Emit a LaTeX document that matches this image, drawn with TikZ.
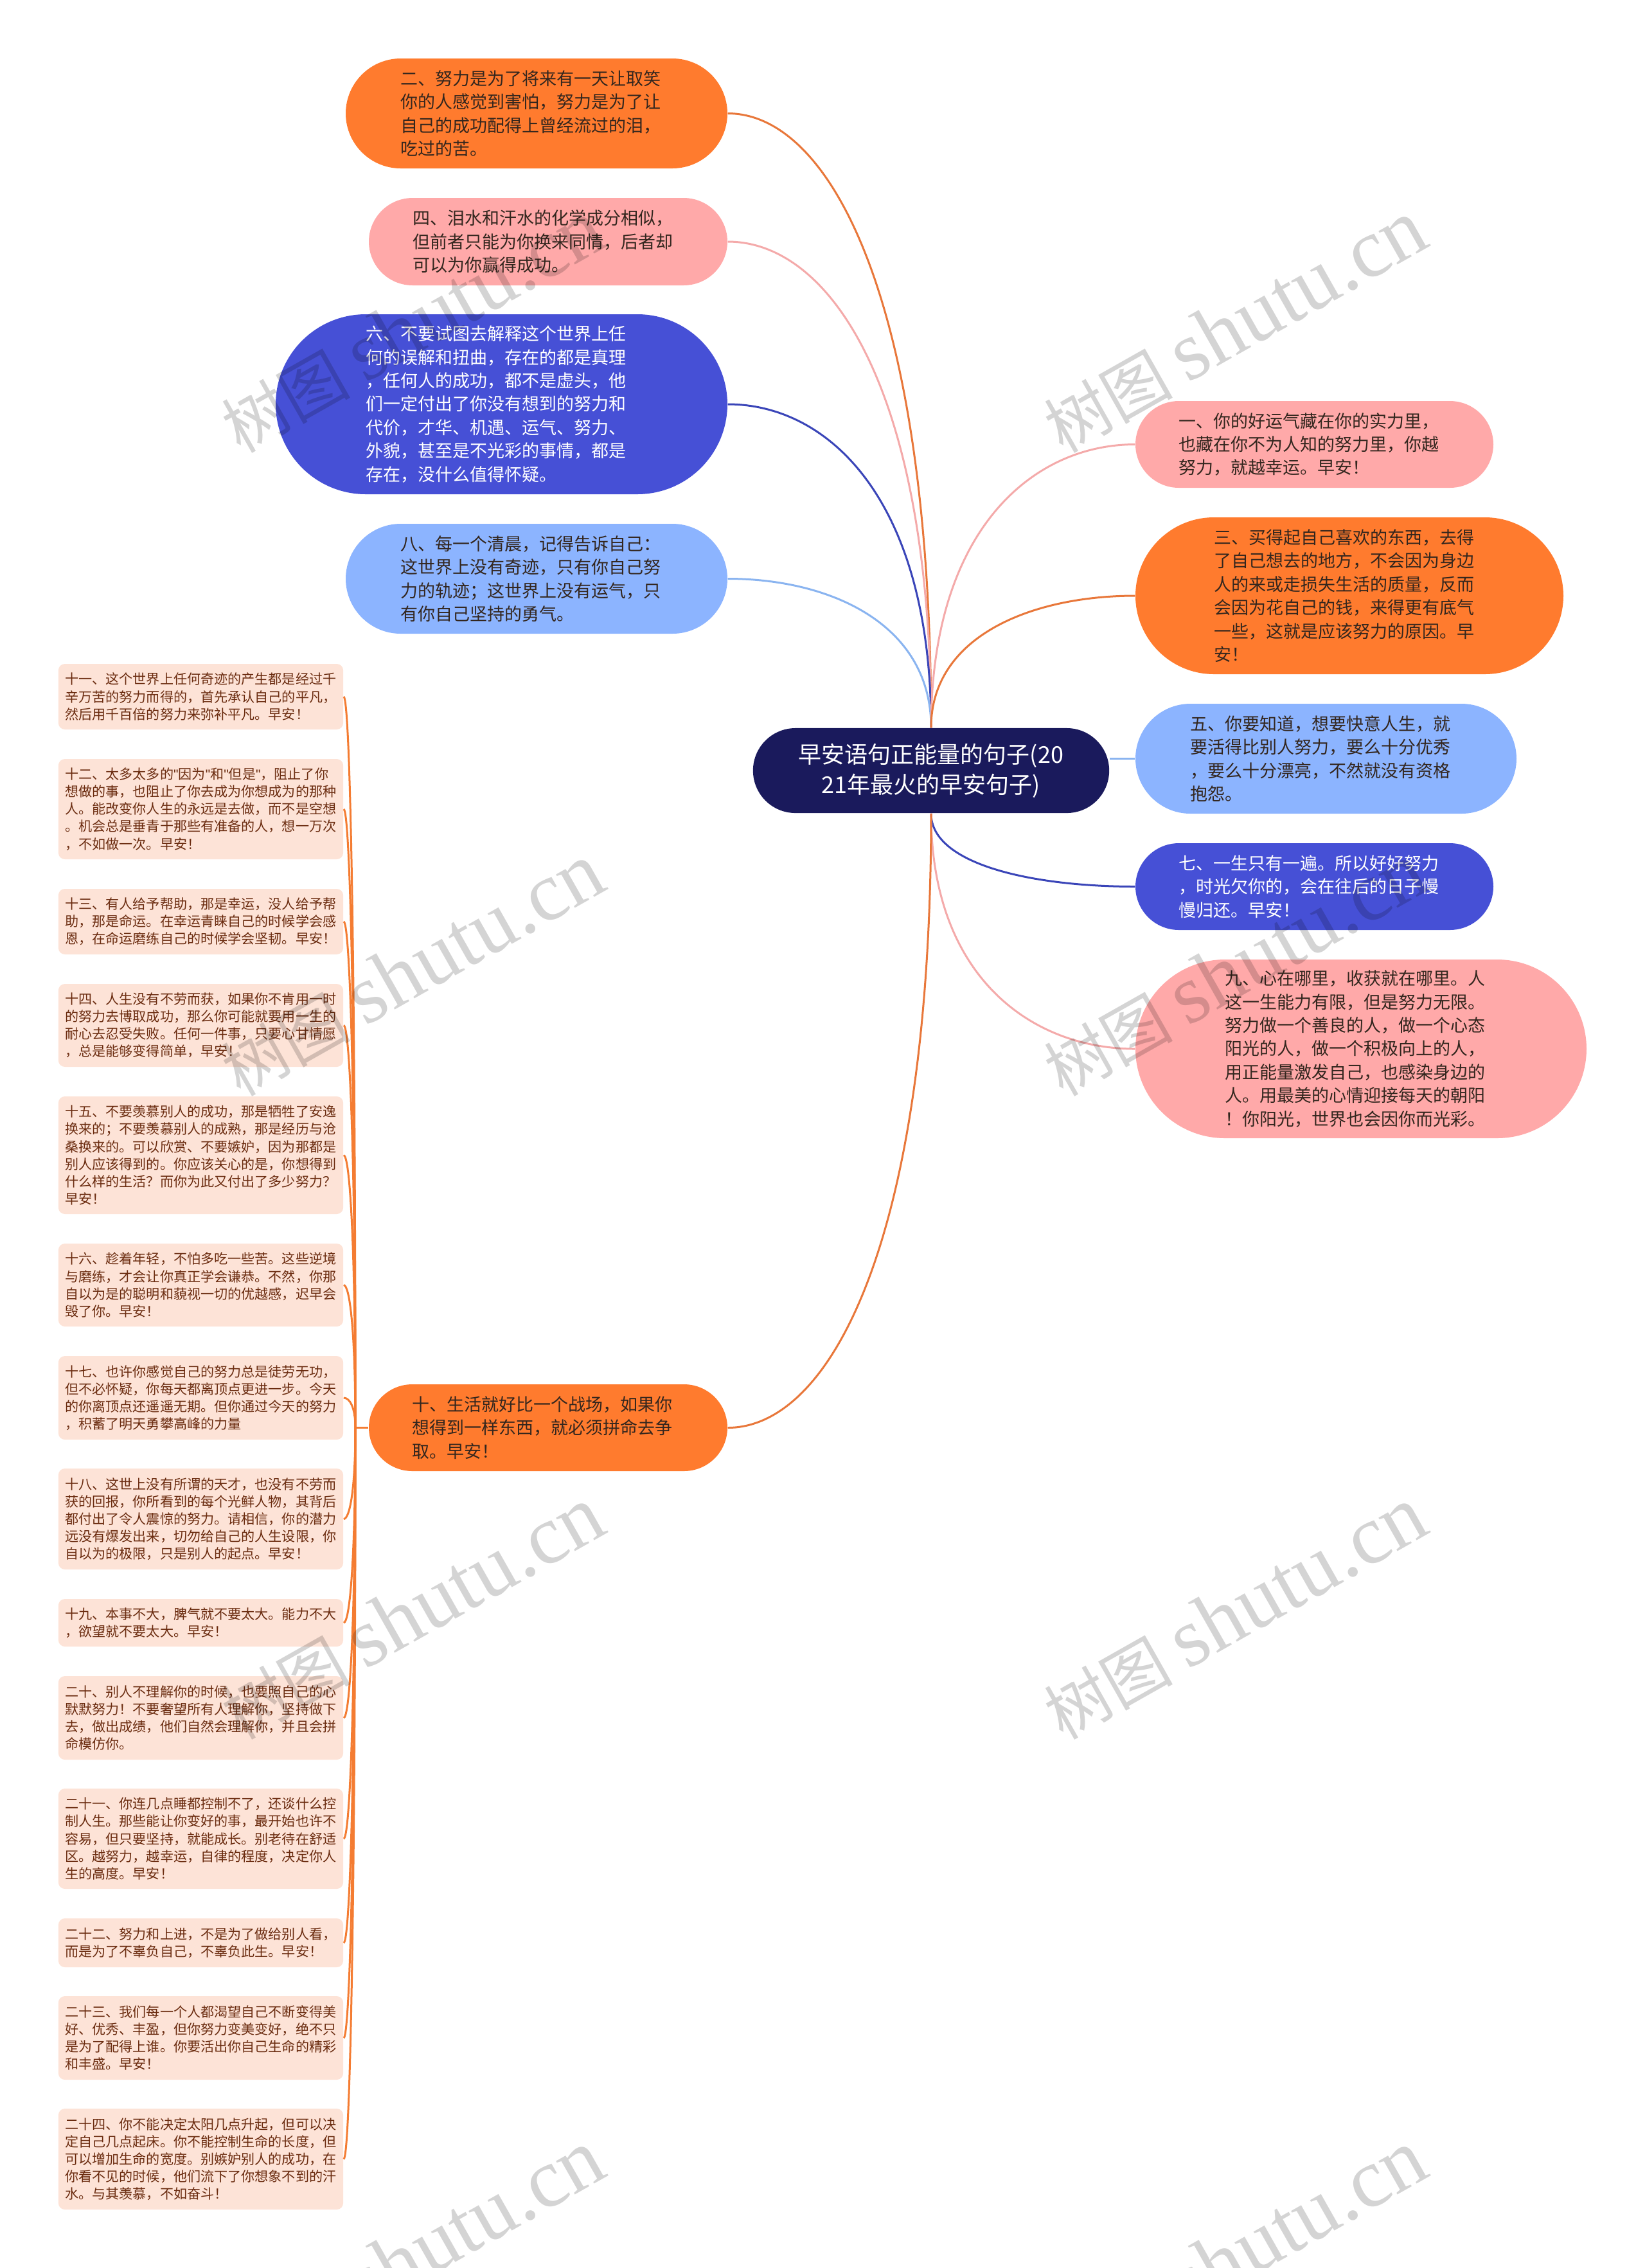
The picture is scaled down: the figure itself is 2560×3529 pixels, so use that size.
\documentclass[tikz,border=0pt]{standalone}
\usepackage{fontspec}
\setmainfont{Noto Sans CJK SC}
\newfontfamily\markfont{Liberation Serif}
\newfontfamily\quotefont{Liberation Sans}
\usetikzlibrary{calc}
\definecolor{rootfill}{HTML}{1A1A5C}
\definecolor{orangefill}{HTML}{FF7B2E}
\definecolor{pinkfill}{HTML}{FFA9A9}
\definecolor{bluefill}{HTML}{4650D6}
\definecolor{skyfill}{HTML}{8CB4FF}
\definecolor{leaffill}{HTML}{FDE3D7}
\definecolor{leaftext}{HTML}{6B2C10}
\definecolor{darktext}{HTML}{33261E}
\definecolor{orangeline}{HTML}{E8773A}
\definecolor{pinkline}{HTML}{F4AAAA}
\definecolor{blueline}{HTML}{3A45B8}
\definecolor{skyline}{HTML}{8AB4F0}
\definecolor{leafline}{HTML}{F47C32}
\tikzset{
	pillbox/.style 2 args={inner sep=0pt, align=left, text=darktext,
		font=\fontsize{7.68pt}{10.36pt}\selectfont,
		minimum width=#1*0.01cm, minimum height=#2*0.01cm,
		text width=(#1-#2)*0.01cm, rounded corners=#2*0.005cm},
	leafbox/.style={inner sep=0pt, align=left, text=leaftext, fill=leaffill,
		font=\fontsize{6pt}{7.71pt}\selectfont,
		minimum width=4.43cm, minimum height=#1*0.01cm, text width=4.22cm,
		rounded corners=0.1cm},
	linkline/.style={line width=0.03cm},
	markword/.style={rotate=29.5, anchor=base, text=black, text opacity=0.17,
		font=\fontsize{28.5pt}{28.5pt}\selectfont}
}
\newcommand{\curvelink}[3]{
	\path ($(#2)!0.5!(#3)$) coordinate (halfway) ($(#2)!0.3!(#3)$) coordinate (nearend);
	\draw[linkline,#1] (#2) .. controls (halfway |- #2) and (#3 |- nearend) .. (#3);
}
\newcommand{\markline}{树图 {\markfont\fontsize{37pt}{37pt}\selectfont shutu.cn}}
\begin{document}
\begin{tikzpicture}[x=0.01cm,y=-0.01cm]
	\useasboundingbox (0,0) rectangle (2560,3529);

	\node[inner sep=0pt, align=center, text=white, fill=rootfill, font=\fontsize{10.24pt}{13.4pt}\selectfont,
		minimum width=5.54cm, minimum height=1.32cm, rounded corners=0.66cm] (root) at (1449,1199)
		{早安语句正能量的句子(20\\21年最火的早安句子)};

	\node[pillbox={594}{171},fill=orangefill] (n2) at (835,176.5)
		{二、努力是为了将来有一天让取笑\\你的人感觉到害怕，努力是为了让\\自己的成功配得上曾经流过的泪，\\吃过的苦。};
	\node[pillbox={558}{136},fill=pinkfill] (n4) at (853,376)
		{四、泪水和汗水的化学成分相似，\\但前者只能为你换来同情，后者却\\可以为你赢得成功。};
	\node[pillbox={703}{280},fill=bluefill,text=white] (n6) at (780.5,629)
		{六、不要试图去解释这个世界上任\\何的误解和扭曲，存在的都是真理\\，任何人的成功，都不是虚头，他\\们一定付出了你没有想到的努力和\\代价，才华、机遇、运气、努力、\\外貌，甚至是不光彩的事情，都是\\存在，没什么值得怀疑。};
	\node[pillbox={594}{171},fill=skyfill] (n8) at (835,900.5)
		{八、每一个清晨，记得告诉自己：\\这世界上没有奇迹，只有你自己努\\力的轨迹；这世界上没有运气，只\\有你自己坚持的勇气。};
	\node[pillbox={558}{135},fill=orangefill] (n10) at (853,2221.5)
		{十、生活就好比一个战场，如果你\\想得到一样东西，就必须拼命去争\\取。早安！};

	\node[pillbox={557}{135},fill=pinkfill] (n1) at (2045.5,691.5)
		{一、你的好运气藏在你的实力里，\\也藏在你不为人知的努力里，你越\\努力，就越幸运。早安！};
	\node[pillbox={666}{244},fill=orangefill] (n3) at (2100,927)
		{三、买得起自己喜欢的东西，去得\\了自己想去的地方，不会因为身边\\人的来或走损失生活的质量，反而\\会因为花自己的钱，来得更有底气\\一些，这就是应该努力的原因。早\\安！};
	\node[pillbox={593}{171},fill=skyfill] (n5) at (2063.5,1180.5)
		{五、你要知道，想要快意人生，就\\要活得比别人努力，要么十分优秀\\，要么十分漂亮，不然就没有资格\\抱怨。};
	\node[pillbox={557}{135},fill=bluefill,text=white] (n7) at (2045.5,1379.5)
		{七、一生只有一遍。所以好好努力\\，时光欠你的，会在往后的日子慢\\慢归还。早安！};
	\node[pillbox={702}{278},fill=pinkfill] (n9) at (2118,1632)
		{九、心在哪里，收获就在哪里。人\\这一生能力有限，但是努力无限。\\努力做一个善良的人，做一个心态\\阳光的人，做一个积极向上的人，\\用正能量激发自己，也感染身边的\\人。用最美的心情迎接每天的朝阳\\！你阳光，世界也会因你而光彩。};

	\node[leafbox=102] (b11) at (312.5,1084)
		{十一、这个世界上任何奇迹的产生都是经过千\\辛万苦的努力而得的，首先承认自己的平凡，\\然后用千百倍的努力来弥补平凡。早安！};
	\node[leafbox=156] (b12) at (312.5,1259)
		{十二、太多太多的{\quotefont "}因为{\quotefont "}和{\quotefont "}但是{\quotefont "}，阻止了你\\想做的事，也阻止了你去成为你想成为的那种\\人。能改变你人生的永远是去做，而不是空想\\。机会总是垂青于那些有准备的人，想一万次\\，不如做一次。早安！};
	\node[leafbox=102] (b13) at (312.5,1434)
		{十三、有人给予帮助，那是幸运，没人给予帮\\助，那是命运。在幸运青睐自己的时候学会感\\恩，在命运磨练自己的时候学会坚韧。早安！};
	\node[leafbox=129] (b14) at (312.5,1595.5)
		{十四、人生没有不劳而获，如果你不肯用一时\\的努力去博取成功，那么你可能就要用一生的\\耐心去忍受失败。任何一件事，只要心甘情愿\\，总是能够变得简单，早安！};
	\node[leafbox=183] (b15) at (312.5,1797.5)
		{十五、不要羡慕别人的成功，那是牺牲了安逸\\换来的；不要羡慕别人的成熟，那是经历与沧\\桑换来的。可以欣赏、不要嫉妒，因为那都是\\别人应该得到的。你应该关心的是，你想得到\\什么样的生活？而你为此又付出了多少努力？\\早安！};
	\node[leafbox=129] (b16) at (312.5,1999.5)
		{十六、趁着年轻，不怕多吃一些苦。这些逆境\\与磨练，才会让你真正学会谦恭。不然，你那\\自以为是的聪明和藐视一切的优越感，迟早会\\毁了你。早安！};
	\node[leafbox=130] (b17) at (312.5,2175)
		{十七、也许你感觉自己的努力总是徒劳无功，\\但不必怀疑，你每天都离顶点更进一步。今天\\的你离顶点还遥遥无期。但你通过今天的努力\\，积蓄了明天勇攀高峰的力量};
	\node[leafbox=157] (b18) at (312.5,2363.5)
		{十八、这世上没有所谓的天才，也没有不劳而\\获的回报，你所看到的每个光鲜人物，其背后\\都付出了令人震惊的努力。请相信，你的潜力\\远没有爆发出来，切勿给自己的人生设限，你\\自以为的极限，只是别人的起点。早安！};
	\node[leafbox=74] (b19) at (312.5,2525)
		{十九、本事不大，脾气就不要太大。能力不大\\，欲望就不要太大。早安！};
	\node[leafbox=130] (b20) at (312.5,2673)
		{二十、别人不理解你的时候，也要照自己的心\\默默努力！不要奢望所有人理解你，坚持做下\\去，做出成绩，他们自然会理解你，并且会拼\\命模仿你。};
	\node[leafbox=156] (b21) at (312.5,2861)
		{二十一、你连几点睡都控制不了，还谈什么控\\制人生。那些能让你变好的事，最开始也许不\\容易，但只要坚持，就能成长。别老待在舒适\\区。越努力，越幸运，自律的程度，决定你人\\生的高度。早安！};
	\node[leafbox=76] (b22) at (312.5,3023)
		{二十二、努力和上进，不是为了做给别人看，\\而是为了不辜负自己，不辜负此生。早安！};
	\node[leafbox=130] (b23) at (312.5,3171)
		{二十三、我们每一个人都渴望自己不断变得美\\好、优秀、丰盈，但你努力变美变好，绝不只\\是为了配得上谁。你要活出你自己生命的精彩\\和丰盛。早安！};
	\node[leafbox=157] (b24) at (312.5,3359.5)
		{二十四、你不能决定太阳几点升起，但可以决\\定自己几点起床。你不能控制生命的长度，但\\可以增加生命的宽度。别嫉妒别人的成功，在\\你看不见的时候，他们流下了你想象不到的汗\\水。与其羡慕，不如奋斗！};

	\coordinate (lefthub) at (553,2221.5);

	\curvelink{orangeline}{n2.east}{root.north}
	\curvelink{pinkline}{n4.east}{root.north}
	\curvelink{blueline}{n6.east}{root.north}
	\curvelink{skyline}{n8.east}{root.north}
	\curvelink{pinkline}{n1.west}{root.north}
	\curvelink{orangeline}{n3.west}{root.north}
	\curvelink{blueline}{n7.west}{root.south}
	\curvelink{pinkline}{n9.west}{root.south}
	\curvelink{orangeline}{n10.east}{root.south}
	\draw[linkline,skyline] (n5.west) -- (n5.west -| root.east);

	\draw[linkline,leafline] (n10.west) -- (lefthub);
	\curvelink{leafline}{b11.east}{lefthub}
	\curvelink{leafline}{b12.east}{lefthub}
	\curvelink{leafline}{b13.east}{lefthub}
	\curvelink{leafline}{b14.east}{lefthub}
	\curvelink{leafline}{b15.east}{lefthub}
	\curvelink{leafline}{b16.east}{lefthub}
	\curvelink{leafline}{b17.east}{lefthub}
	\curvelink{leafline}{b18.east}{lefthub}
	\curvelink{leafline}{b19.east}{lefthub}
	\curvelink{leafline}{b20.east}{lefthub}
	\curvelink{leafline}{b21.east}{lefthub}
	\curvelink{leafline}{b22.east}{lefthub}
	\curvelink{leafline}{b23.east}{lefthub}
	\curvelink{leafline}{b24.east}{lefthub}

	\node[markword] (w1) at (662,544) {\markline};
	\node[markword] (w2) at (1942,544) {\markline};
	\node[markword] (w3) at (662,1545) {\markline};
	\node[markword] (w4) at (1942,1545) {\markline};
	\node[markword] (w5) at (662,2546) {\markline};
	\node[markword] (w6) at (1942,2546) {\markline};
	\node[markword] (w7) at (662,3547) {\markline};
	\node[markword] (w8) at (1942,3547) {\markline};
\end{tikzpicture}
\end{document}
